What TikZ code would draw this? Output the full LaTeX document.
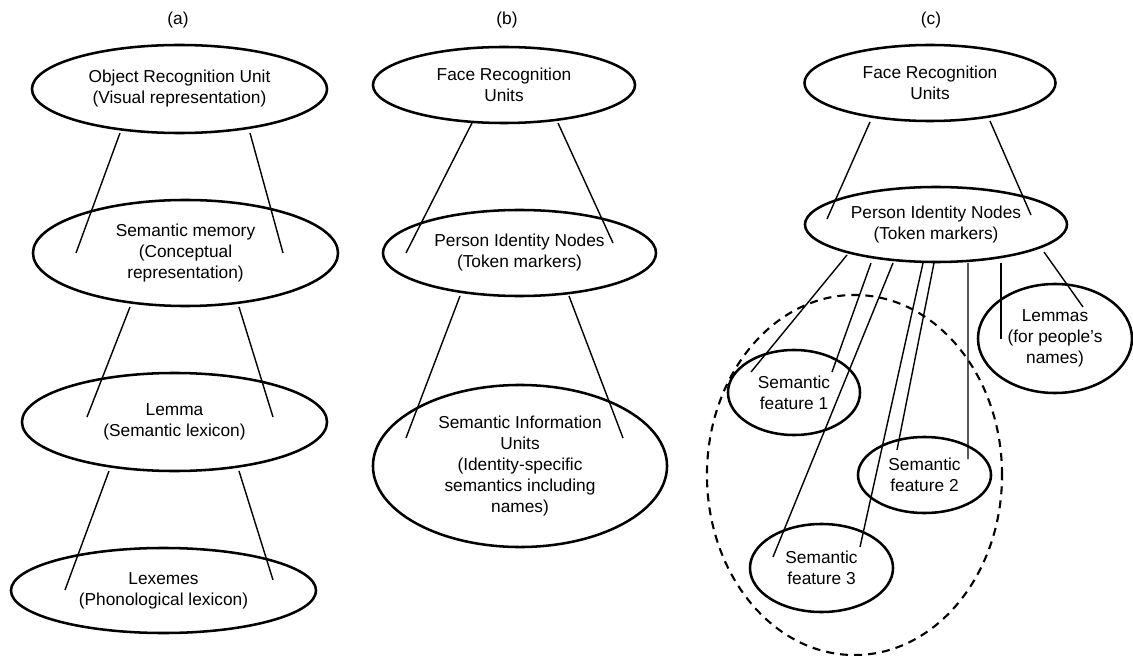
\documentclass[tikz,border=0pt]{standalone}
\usepackage{fontspec}
\setmainfont{Liberation Sans}
\usetikzlibrary{shapes.geometric}

\begin{document}
\begin{tikzpicture}
            [x=0.025cm, y=-0.025cm,
             unit/.style={draw, shape=ellipse, line width=1.8pt, inner sep=0pt, align=center, font=\fontsize{12.3}{14.9}\selectfont},
             link/.style={line width=1pt, black},
             group/.style={draw, shape=ellipse, dash pattern=on 5.7pt off 4.3pt, line width=1.5pt},
             panel/.style={font=\fontsize{12.3}{14.9}\selectfont}]

            \useasboundingbox (0,0) rectangle (1133,656);

            % (a)
            \node[panel] (ta) at (178, 20) {(a)};
            \node[unit, minimum width=7.375cm, minimum height=2.2cm] (a1) at (179.5, 89) {Object Recognition Unit\\(Visual representation)};
            \node[unit, minimum width=7.625cm, minimum height=2.65cm] (a2) at (185.5, 253) {Semantic memory\\(Conceptual\\representation)};
            \node[unit, minimum width=7.625cm, minimum height=2.45cm] (a3) at (174.5, 422) {Lemma\\(Semantic lexicon)};
            \node[unit, minimum width=7.625cm, minimum height=2.125cm] (a4) at (163.5, 590.5) {Lexemes\\(Phonological lexicon)};

            \draw[link] ([shift={(-59.5,44)}]a1.center) -- ([shift={(-109.5,0)}]a2.center);
            \draw[link] ([shift={(70.5,44)}]a1.center) -- ([shift={(97.5,0)}]a2.center);
            \draw[link] ([shift={(-55.5,54)}]a2.center) -- ([shift={(-87.5,-5)}]a3.center);
            \draw[link] ([shift={(53.5,54)}]a2.center) -- ([shift={(98.5,-5)}]a3.center);
            \draw[link] ([shift={(-65.5,49)}]a3.center) -- ([shift={(-98.5,-0.5)}]a4.center);
            \draw[link] ([shift={(64.5,49)}]a3.center) -- ([shift={(109.5,-10.5)}]a4.center);

            % (b)
            \node[panel] (tb) at (507, 20) {(b)};
            \node[unit, minimum width=6.55cm, minimum height=1.9cm] (b1) at (504, 85) {Face Recognition\\Units};
            \node[unit, minimum width=6.825cm, minimum height=2.15cm] (b2) at (519.5, 253) {Person Identity Nodes\\(Token markers)};
            \node[unit, minimum width=7.35cm, minimum height=4.05cm] (b3) at (520, 466) {Semantic Information\\Units\\(Identity-specific\\semantics including\\names)};

            \draw[link] ([shift={(-32,38)}]b1.center) -- ([shift={(-113.5,0)}]b2.center);
            \draw[link] ([shift={(54,38)}]b1.center) -- ([shift={(93.5,-10)}]b2.center);
            \draw[link] ([shift={(-59.5,43)}]b2.center) -- ([shift={(-114,-28)}]b3.center);
            \draw[link] ([shift={(49.5,43)}]b2.center) -- ([shift={(103,-28)}]b3.center);

            % (c)
            \node[panel] (tc) at (931, 20) {(c)};
            \node[unit, minimum width=6.275cm, minimum height=1.9cm] (c1) at (930, 83) {Face Recognition\\Units};
            \node[unit, minimum width=6.55cm, minimum height=1.875cm] (c2) at (936, 224.5) {Person Identity Nodes\\(Token markers)};
            \node[group, minimum width=7.375cm, minimum height=9cm] (set) at (854.5, 475) {};
            \node[unit, minimum width=3.3cm, minimum height=2.125cm] (f1) at (794, 392.5) {Semantic\\feature 1};
            \node[unit, minimum width=3.325cm, minimum height=1.9cm] (f2) at (924.5, 475) {Semantic\\feature 2};
            \node[unit, minimum width=3.575cm, minimum height=2.2cm] (f3) at (821.5, 568) {Semantic\\feature 3};
            \node[unit, minimum width=3.85cm, minimum height=2.725cm] (lem) at (1055, 338.5) {Lemmas\\(for people’s\\names)};

            \draw[link] ([shift={(-60,39)}]c1.center) -- ([shift={(-109,-5.5)}]c2.center);
            \draw[link] ([shift={(60,38)}]c1.center) -- ([shift={(95,-9.5)}]c2.center);
            \draw[link] ([shift={(-89,30.5)}]c2.center) -- ([shift={(-43,-20.5)}]f1.center);
            \draw[link] ([shift={(-65,38.5)}]c2.center) -- ([shift={(38,-20.5)}]f1.center);
            \draw[link] ([shift={(-43,38.5)}]c2.center) -- ([shift={(-48.5,-11)}]f3.center);
            \draw[link] ([shift={(-13,38.5)}]c2.center) -- ([shift={(38.5,-21)}]f3.center);
            \draw[link] ([shift={(-2,38.5)}]c2.center) -- ([shift={(-27.5,-25)}]f2.center);
            \draw[link] ([shift={(32,38.5)}]c2.center) -- ([shift={(43.5,-16)}]f2.center);
            \draw[link] ([shift={(65,38.5)}]c2.center) -- ([shift={(-54,0.5)}]lem.center);
            \draw[link] ([shift={(108,27.5)}]c2.center) -- ([shift={(28,-31.5)}]lem.center);
          \end{tikzpicture}
\end{document}
